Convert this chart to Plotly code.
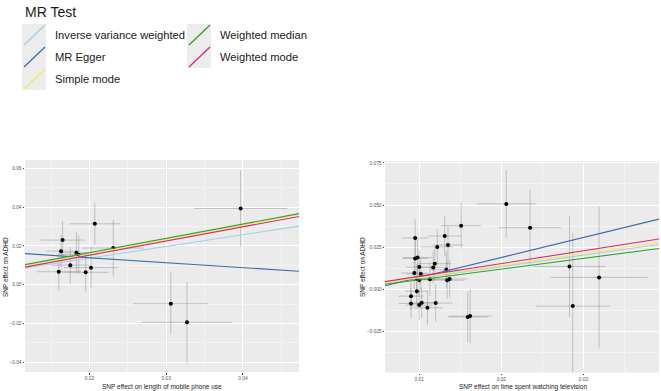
import plotly.graph_objects as go

W, H = 661, 391

# ---------------- data: left panel (mobile phone use) ----------------
mob_x = [0.0165, 0.0163, 0.0160, 0.0175, 0.0183, 0.0186, 0.0195, 0.0202, 0.0207, 0.0231, 0.0306, 0.0327, 0.0397]
mob_y = [0.0230, 0.0173, 0.0067, 0.0101, 0.0165, 0.0155, 0.0064, 0.0088, 0.0314, 0.0189, -0.0098, -0.0194, 0.0393]
mob_xe = [0.0029, 0.0020, 0.0029, 0.0025, 0.0022, 0.0025, 0.0030, 0.0035, 0.0033, 0.0040, 0.0049, 0.0059, 0.0061]
mob_ye = [0.0098, 0.0085, 0.0098, 0.0094, 0.0107, 0.0100, 0.0103, 0.0107, 0.0107, 0.0146, 0.0160, 0.0210, 0.0197]

# ---------------- data: right panel (television) ----------------
tv_x = [0.0206, 0.0235, 0.0151, 0.0131, 0.0135, 0.0122, 0.0095, 0.0098, 0.0095, 0.0119,
        0.0117, 0.0100, 0.0094, 0.0102, 0.0133, 0.0113, 0.0137, 0.0134, 0.0097, 0.0100,
        0.0097, 0.0090, 0.0090, 0.0100, 0.0103, 0.0110, 0.0120, 0.0159, 0.0162, 0.0283,
        0.0319, 0.0287]
tv_y = [0.0507, 0.0366, 0.0378, 0.0317, 0.0264, 0.0252, 0.0305, 0.0190, 0.0184, 0.0153,
        0.0131, 0.0133, 0.0098, 0.0092, 0.0117, 0.0061, 0.0063, 0.0055, 0.0062, 0.0057,
        -0.0010, -0.0039, -0.0082, -0.0092, -0.0078, -0.0108, -0.0080, -0.0162, -0.0157, 0.0137,
        0.0072, -0.0098]
tv_xe = [0.0036, 0.0038, 0.0024, 0.0020, 0.0018, 0.0020, 0.0016, 0.0018, 0.0016, 0.0020,
         0.0018, 0.0016, 0.0016, 0.0018, 0.0020, 0.0018, 0.0022, 0.0020, 0.0016, 0.0016,
         0.0014, 0.0015, 0.0015, 0.0016, 0.0016, 0.0018, 0.0020, 0.0024, 0.0026, 0.0044,
         0.0059, 0.0045]
tv_ye = [0.0200, 0.0225, 0.0137, 0.0120, 0.0110, 0.0105, 0.0112, 0.0110, 0.0110, 0.0100,
         0.0095, 0.0100, 0.0095, 0.0095, 0.0110, 0.0100, 0.0110, 0.0110, 0.0090, 0.0090,
         0.0085, 0.0085, 0.0090, 0.0090, 0.0090, 0.0100, 0.0110, 0.0150, 0.0160, 0.0300,
         0.0420, 0.0430]

# ---------------- MR method estimates ----------------
methods = ["Inverse variance weighted", "MR Egger", "Simple mode", "Weighted median", "Weighted mode"]
colors = ["#a6cee3", "#3a6ea8", "#f2ec5a", "#33a02c", "#e0257a"]
mob_slope = [0.605, -0.255, 0.742, 0.737, 0.731]
mob_icpt = [0.0016, 0.0190, 0.0010, 0.0018, 0.0006]
tv_slope = [0.680, 1.184, 0.716, 0.635, 0.755]
tv_icpt = [0.0000, -0.0047, -0.0001, -0.0006, 0.0003]

mob_xrange = [0.0116, 0.0473]
mob_yrange = [-0.045, 0.0643]
tv_xrange = [0.00583, 0.0392]
tv_yrange = [-0.0491, 0.0761]

FONT = "Liberation Sans, Arial, sans-serif"
fig = go.Figure()

def add_panel(xs, ys, xe, ye, slopes, icpts, xr, xa, ya):
    fig.add_trace(go.Scatter(
        x=xs, y=ys, mode="markers", xaxis=xa, yaxis=ya, showlegend=False,
        marker=dict(color="black", size=4),
        error_x=dict(type="data", array=xe, visible=True, color="rgba(110,110,110,0.5)", thickness=0.7, width=0),
        error_y=dict(type="data", array=ye, visible=True, color="rgba(110,110,110,0.5)", thickness=0.7, width=0),
    ))
    order = [0, 1, 2, 4, 3]
    for i in order:
        lx = list(xr)
        ly = [icpts[i] + slopes[i] * v for v in lx]
        fig.add_trace(go.Scatter(x=lx, y=ly, mode="lines", xaxis=xa, yaxis=ya, showlegend=False,
                                 line=dict(color=colors[i], width=1.1), name=methods[i]))

add_panel(mob_x, mob_y, mob_xe, mob_ye, mob_slope, mob_icpt, mob_xrange, "x", "y")
add_panel(tv_x, tv_y, tv_xe, tv_ye, tv_slope, tv_icpt, tv_xrange, "x2", "y2")

def px(x):
    return x / W

def py(y):
    return 1 - y / H

axis_common = dict(
    showgrid=True, gridcolor="white", gridwidth=0.8, zeroline=False, showline=False,
    ticks="outside", ticklen=1.5, tickwidth=0.6, tickcolor="#444",
    tickfont=dict(size=4.8, color="#555", family=FONT),
)

def minor(t0, dt):
    return dict(showgrid=True, gridcolor="#f4f4f4", gridwidth=0.5, tick0=t0, dtick=dt)

fig.update_layout(
    width=W, height=H, margin=dict(l=0, r=0, t=0, b=0),
    paper_bgcolor="white", plot_bgcolor="#ebebeb",
    font=dict(family=FONT),
    xaxis=dict(domain=[px(25), px(299)], range=mob_xrange, anchor="y",
               tick0=0.02, dtick=0.01, tickformat=".2f", minor=minor(0.015, 0.01), **axis_common),
    yaxis=dict(domain=[py(372), py(160)], range=mob_yrange, anchor="x",
               tick0=0.0, dtick=0.02, tickformat=".2f", minor=minor(0.01, 0.02), **axis_common),
    xaxis2=dict(domain=[px(385), px(659)], range=tv_xrange, anchor="y2",
                tick0=0.01, dtick=0.01, tickformat=".2f", minor=minor(0.005, 0.01), **axis_common),
    yaxis2=dict(domain=[py(372.5), py(161)], range=tv_yrange, anchor="x2",
                tick0=0.0, dtick=0.025, tickformat=".3f", minor=minor(0.0125, 0.025), **axis_common),
)

annotations = []
shapes = []

# axis titles
annotations += [
    dict(x=px(162), y=py(386.5), xref="paper", yref="paper", text="SNP effect on length of mobile phone use",
         showarrow=False, font=dict(size=6.5, color="#222", family=FONT), xanchor="center", yanchor="middle"),
    dict(x=px(523), y=py(386.5), xref="paper", yref="paper", text="SNP effect on time spent watching television",
         showarrow=False, font=dict(size=6.5, color="#222", family=FONT), xanchor="center", yanchor="middle"),
    dict(x=px(5), y=py(267), xref="paper", yref="paper", text="SNP effect on ADHD", textangle=-90,
         showarrow=False, font=dict(size=6.5, color="#222", family=FONT), xanchor="center", yanchor="middle"),
    dict(x=px(362), y=py(267), xref="paper", yref="paper", text="SNP effect on ADHD", textangle=-90,
         showarrow=False, font=dict(size=6.5, color="#222", family=FONT), xanchor="center", yanchor="middle"),
]

# manual legend
annotations.append(dict(x=px(23), y=py(12), xref="paper", yref="paper", text="MR Test", showarrow=False,
                        font=dict(size=14, color="#1a1a1a", family=FONT), xanchor="left", yanchor="middle"))
legend_pos = [(22, 24, 53), (22, 46, 53), (22, 68, 53), (187, 24, 218), (187, 46, 218)]
for (kx, ky, tx), i in zip(legend_pos, range(len(methods))):
    shapes.append(dict(type="rect", xref="paper", yref="paper", x0=px(kx), x1=px(kx + 24), y0=py(ky + 22), y1=py(ky),
                       fillcolor="#ececec", line=dict(width=0), layer="below"))
    shapes.append(dict(type="line", xref="paper", yref="paper", x0=px(kx + 2), y0=py(ky + 21), x1=px(kx + 23), y1=py(ky + 1),
                       line=dict(color=colors[i], width=1.3)))
    annotations.append(dict(x=px(tx), y=py(ky + 11), xref="paper", yref="paper", text=methods[i], showarrow=False,
                            font=dict(size=11.2, color="#1a1a1a", family=FONT), xanchor="left", yanchor="middle"))

fig.update_layout(annotations=annotations, shapes=shapes)
fig.write_html("out.html", config={"displayModeBar": False},
               post_script="document.body.style.margin='0';document.body.style.padding='0';")
